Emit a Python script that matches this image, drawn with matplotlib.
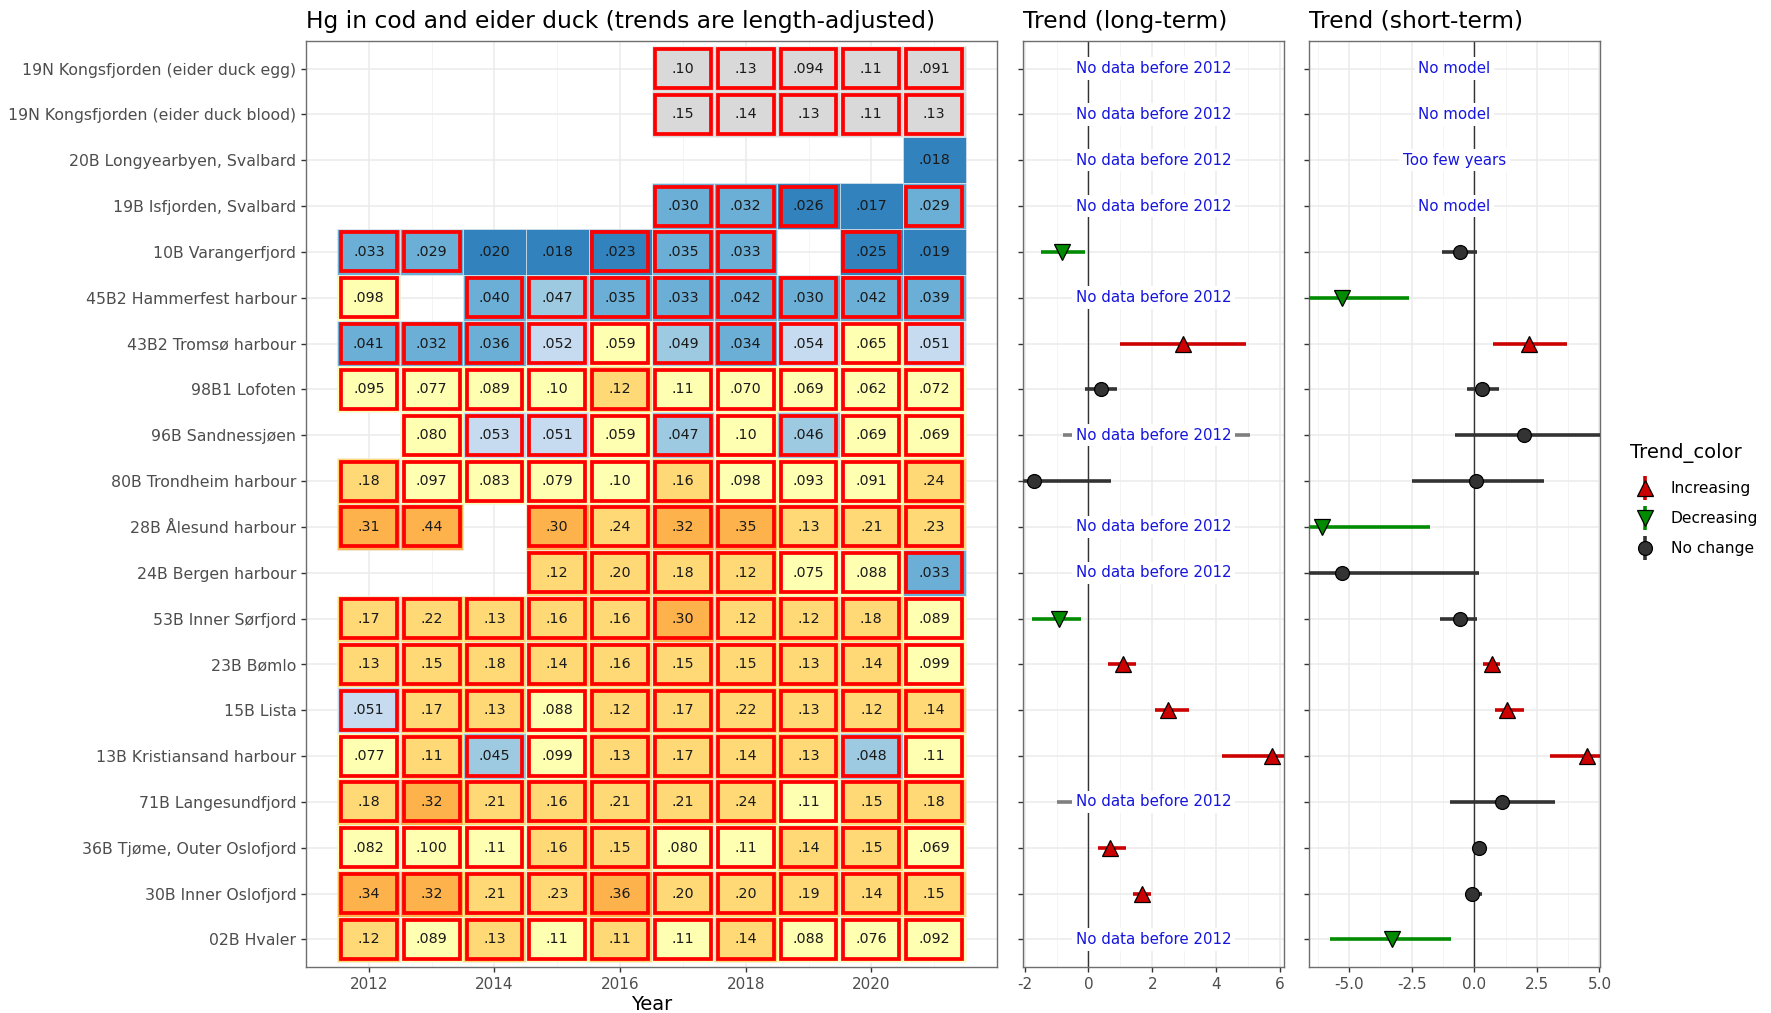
import numpy as np
import matplotlib.pyplot as plt
from matplotlib.patches import Rectangle

# Stations, top to bottom
stations = [
    "19N Kongsfjorden (eider duck egg)",
    "19N Kongsfjorden (eider duck blood)",
    "20B Longyearbyen, Svalbard",
    "19B Isfjorden, Svalbard",
    "10B Varangerfjord",
    "45B2 Hammerfest harbour",
    "43B2 Tromsø harbour",
    "98B1 Lofoten",
    "96B Sandnessjøen",
    "80B Trondheim harbour",
    "28B Ålesund harbour",
    "24B Bergen harbour",
    "53B Inner Sørfjord",
    "23B Bømlo",
    "15B Lista",
    "13B Kristiansand harbour",
    "71B Langesundfjord",
    "36B Tjøme, Outer Oslofjord",
    "30B Inner Oslofjord",
    "02B Hvaler",
]
eider = [True, True] + [False] * 18
years = list(range(2012, 2022))

# Hg concentrations (mg/kg w.w.), one row per station
N = None
hg = [
    [N, N, N, N, N, 0.102, 0.13, 0.094, 0.11, 0.091],
    [N, N, N, N, N, 0.15, 0.14, 0.13, 0.11, 0.13],
    [N, N, N, N, N, N, N, N, N, 0.018],
    [N, N, N, N, N, 0.030, 0.032, 0.026, 0.017, 0.029],
    [0.033, 0.029, 0.0199, 0.018, 0.023, 0.035, 0.033, N, 0.025, 0.019],
    [0.098, N, 0.040, 0.047, 0.035, 0.033, 0.0418, 0.030, 0.0418, 0.039],
    [0.041, 0.032, 0.036, 0.052, 0.059, 0.049, 0.034, 0.054, 0.065, 0.0508],
    [0.095, 0.077, 0.089, 0.102, 0.118, 0.108, 0.070, 0.069, 0.062, 0.072],
    [N, 0.080, 0.053, 0.0508, 0.059, 0.047, 0.102, 0.046, 0.069, 0.069],
    [0.18, 0.097, 0.083, 0.079, 0.102, 0.16, 0.098, 0.093, 0.091, 0.24],
    [0.31, 0.44, N, 0.30, 0.24, 0.32, 0.35, 0.13, 0.21, 0.23],
    [N, N, N, 0.118, 0.20, 0.18, 0.118, 0.075, 0.088, 0.033],
    [0.17, 0.22, 0.13, 0.16, 0.16, 0.30, 0.12, 0.12, 0.18, 0.089],
    [0.13, 0.15, 0.18, 0.14, 0.16, 0.15, 0.15, 0.13, 0.14, 0.099],
    [0.0508, 0.17, 0.13, 0.088, 0.12, 0.17, 0.22, 0.13, 0.12, 0.14],
    [0.077, 0.113, 0.045, 0.099, 0.13, 0.17, 0.14, 0.13, 0.048, 0.108],
    [0.18, 0.32, 0.21, 0.16, 0.21, 0.21, 0.24, 0.108, 0.15, 0.18],
    [0.082, 0.0996, 0.108, 0.16, 0.15, 0.080, 0.108, 0.14, 0.15, 0.069],
    [0.34, 0.32, 0.21, 0.23, 0.36, 0.20, 0.20, 0.19, 0.14, 0.15],
    [0.12, 0.089, 0.13, 0.108, 0.113, 0.108, 0.14, 0.088, 0.076, 0.092],
]

proref = 0.056
eqs = 0.020
class_mult = [0.5, 0.75, 0.9, 1, 2, 5]
class_col = ["#3182BD", "#6BAED6", "#9ECAE1", "#C6DBEF", "#FFFFB2", "#FED976", "#FEB24C"]
nocls_col = "#D9D9D9"

# Trends, % per year (long-term and short-term)
long_est = [N, N, N, N, -0.82, N, 2.97, 0.38, N, -1.72, N, N, -0.91, 1.08, 2.48, 5.74, N, 0.68, 1.68, N]
long_lo = [N, N, N, N, -1.49, N, 1.00, -0.11, -0.80, -2.6, N, N, -1.78, 0.60, 2.09, 4.17, -1.0, 0.31, 1.38, N]
long_hi = [N, N, N, N, -0.11, N, 4.94, 0.89, 5.05, 0.69, N, N, -0.22, 1.49, 3.15, 7.0, 1.0, 1.17, 1.97, N]
long_trend = ["", "", "", "", "Decreasing", "", "Increasing", "No change", "", "No change",
              "", "", "Decreasing", "Increasing", "Increasing", "Increasing", "", "Increasing", "Increasing", ""]
long_note = ["No data before 2012"] * 4 + ["", "No data before 2012", "", "", "No data before 2012", "",
             "No data before 2012", "No data before 2012", "", "", "", "", "No data before 2012", "", "",
             "No data before 2012"]

short_est = [N, N, N, N, -0.59, -5.29, 2.20, 0.29, 2.00, 0.08, -6.08, -5.29, -0.59, 0.69, 1.29, 4.51, 1.10, 0.20, -0.10, -3.29]
short_lo = [N, N, N, N, -1.27, -7.0, 0.73, -0.29, -0.78, -2.49, -7.2, -7.0, -1.37, 0.33, 0.84, 3.02, -0.98, -0.04, -0.33, -5.76]
short_hi = [N, N, N, N, 0.10, -2.59, 3.69, 1.00, 5.8, 2.78, -1.76, 0.20, 0.10, 1.04, 2.00, 6.0, 3.22, 0.39, 0.29, -0.92]
short_trend = ["", "", "", "", "No change", "Decreasing", "Increasing", "No change", "No change", "No change",
               "Decreasing", "No change", "No change", "Increasing", "Increasing", "Increasing", "No change",
               "No change", "No change", "Decreasing"]
short_note = ["No model", "No model", "Too few years", "No model"] + [""] * 16

trend_style = {
    "Increasing": ("#CC0000", "^", 12),
    "Decreasing": ("#008B00", "v", 12),
    "No change": ("#333333", "o", 10),
}


def fmt(v):
    # two significant digits, no leading zero
    dec = 1 - int(np.floor(np.log10(v)))
    return f"{v:.{dec}f}".lstrip("0")


plt.rcParams["font.family"] = "DejaVu Sans"
fig = plt.figure(figsize=(17.71, 10.13), dpi=100)
W, H = 1771, 1013
bot, top = 967, 41
ax_h = fig.add_axes([306 / W, 1 - bot / H, (997 - 306) / W, (bot - top) / H])
ax_l = fig.add_axes([1023 / W, 1 - bot / H, (1284 - 1023) / W, (bot - top) / H])
ax_s = fig.add_axes([1309 / W, 1 - bot / H, (1600 - 1309) / W, (bot - top) / H])

rows = np.arange(1, len(stations) + 1)
for ax in (ax_h, ax_l, ax_s):
    ax.set_ylim(len(stations) + 0.6, 0.4)
    ax.set_yticks(rows)
    ax.grid(True, which="major", color="#EBEBEB", lw=1.1, zorder=0)
    ax.grid(True, which="minor", axis="x", color="#F4F4F4", lw=0.7, zorder=0)
    ax.set_axisbelow(True)
    for sp in ax.spines.values():
        sp.set_color("#6E6E6E")
        sp.set_linewidth(1.0)
    ax.tick_params(colors="#333333", labelcolor="#4D4D4D", labelsize=11, length=3.5, width=1.0)

# heatmap of yearly medians
ax_h.set_xlim(2011.0, 2022.0)
ax_h.set_xticks([2012, 2014, 2016, 2018, 2020])
ax_h.set_xticks(np.arange(2011, 2023, 2), minor=True)
ax_h.tick_params(which="minor", length=0)
ax_h.set_yticklabels(stations, fontsize=11.3)
for i, st in enumerate(stations):
    for j, yr in enumerate(years):
        v = hg[i][j]
        if v is None:
            continue
        if eider[i]:
            col = nocls_col
        else:
            col = class_col[int(np.digitize(v, [m * proref for m in class_mult]))]
        ax_h.add_patch(Rectangle((yr - 0.5, rows[i] - 0.5), 1, 1, facecolor=col,
                                 edgecolor="#F0F0F0", lw=0.4, zorder=2))
        if v > eqs:
            ax_h.add_patch(Rectangle((yr - 0.445, rows[i] - 0.425), 0.89, 0.85, facecolor="none",
                                     edgecolor="#FF0000", lw=2.7, zorder=3))
        ax_h.text(yr, rows[i], fmt(v), ha="center", va="center", fontsize=10.3,
                  color="#1A1A1A", zorder=4)
ax_h.set_xlabel("Year", fontsize=14, color="black", labelpad=2)
ax_h.set_title("Hg in cod and eider duck (trends are length-adjusted)", loc="left",
               fontsize=16.8, pad=9.5)


def trend_panel(ax, est, lo, hi, trend, note, xlim, major, minor, labels, title):
    ax.set_xlim(*xlim)
    ax.set_xticks(major)
    ax.set_xticklabels(labels)
    ax.set_xticks(minor, minor=True)
    ax.tick_params(which="minor", length=0)
    ax.set_yticklabels([])
    ax.axvline(0, color="#333333", lw=1.0, zorder=1)
    for i in range(len(rows)):
        if lo[i] is not None:
            col = trend_style[trend[i]][0] if trend[i] else "#7F7F7F"
            ax.plot([lo[i], hi[i]], [rows[i], rows[i]], color=col, lw=2.6,
                    solid_capstyle="butt", zorder=3)
        if est[i] is not None and trend[i]:
            col, mk, ms = trend_style[trend[i]]
            ax.plot(est[i], rows[i], marker=mk, ms=ms, color=col, mec="black",
                    mew=0.9, zorder=4)
        if note[i]:
            ax.text(0.5, rows[i], note[i], transform=ax.get_yaxis_transform(),
                    ha="center", va="center", fontsize=10.8, color="#1515E0", zorder=5,
                    bbox=dict(boxstyle="square,pad=0.25", fc="white", ec="none"))
    ax.set_title(title, loc="left", fontsize=16.8, pad=9.5)


trend_panel(ax_l, long_est, long_lo, long_hi, long_trend, long_note, (-2.05, 6.12),
            [-2, 0, 2, 4, 6], [-1, 1, 3, 5], ["-2", "0", "2", "4", "6"], "Trend (long-term)")
trend_panel(ax_s, short_est, short_lo, short_hi, short_trend, short_note, (-6.6, 5.02),
            [-5, -2.5, 0, 2.5, 5], [-6.25, -3.75, -1.25, 1.25, 3.75],
            ["-5.0", "-2.5", "0.0", "2.5", "5.0"], "Trend (short-term)")

# legend, drawn in pixel coordinates
lg = fig.add_axes([0, 0, 1, 1], facecolor="none")
lg.set_xlim(0, W)
lg.set_ylim(H, 0)
lg.axis("off")
lg.text(1630, 453, "Trend_color", fontsize=14, ha="left", va="center")
for k, name in enumerate(["Increasing", "Decreasing", "No change"]):
    col, mk, ms = trend_style[name]
    yk = 488 + 30 * k
    lg.plot([1645, 1645], [yk - 12, yk + 12], color=col, lw=2.6, solid_capstyle="butt")
    lg.plot(1645, yk, marker=mk, ms=ms, color=col, mec="black", mew=0.9)
    lg.text(1671, yk, name, fontsize=11.2, ha="left", va="center", color="black")

fig.savefig("out.png", dpi=100)
